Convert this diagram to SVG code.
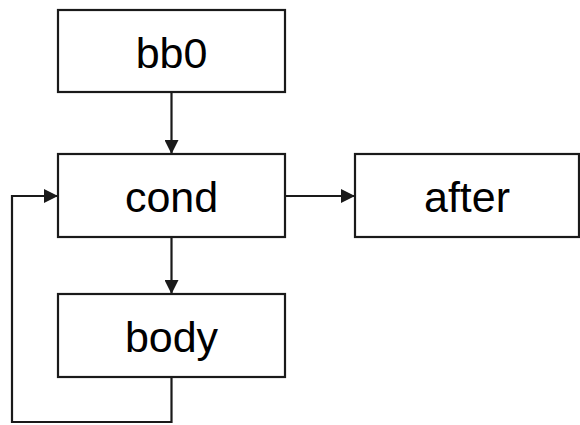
<svg xmlns="http://www.w3.org/2000/svg" width="580" height="425" viewBox="0 0 580 425">
  <style>
    .box { fill: #ffffff; stroke: #1a1a1a; stroke-width: 2.2; }
    .label { font-family: "Liberation Sans", Arial, sans-serif; font-size: 43px; fill: #000000; text-anchor: middle; }
    .edge { fill: none; stroke: #1a1a1a; stroke-width: 2.2; }
  </style>
  <defs>
    <marker id="arrow" viewBox="0 0 14 14" refX="14" refY="7" markerWidth="14" markerHeight="14" markerUnits="userSpaceOnUse" orient="auto">
      <path d="M0,0 L14,7 L0,14 Z" fill="#1a1a1a"/>
    </marker>
  </defs>
  <rect width="580" height="425" fill="#ffffff"/>

  <g id="connectors">
    <line class="edge" x1="171.5" y1="92" x2="171.5" y2="154" marker-end="url(#arrow)"/>
    <line class="edge" x1="171.5" y1="237" x2="171.5" y2="294" marker-end="url(#arrow)"/>
    <line class="edge" x1="285" y1="196" x2="355" y2="196" marker-end="url(#arrow)"/>
    <polyline class="edge" points="171.5,377 171.5,422 12,422 12,196 58,196" marker-end="url(#arrow)"/>
  </g>

  <g id="bb0">
    <rect class="box" x="58" y="10" width="227" height="82"/>
    <text class="label" x="171.5" y="68">bb0</text>
  </g>
  <g id="cond">
    <rect class="box" x="58" y="154" width="227" height="83"/>
    <text class="label" x="171.5" y="212">cond</text>
  </g>
  <g id="after">
    <rect class="box" x="355" y="154" width="224" height="83"/>
    <text class="label" x="467" y="212">after</text>
  </g>
  <g id="body">
    <rect class="box" x="58" y="294" width="227" height="83"/>
    <text class="label" x="171.5" y="352">body</text>
  </g>
</svg>
